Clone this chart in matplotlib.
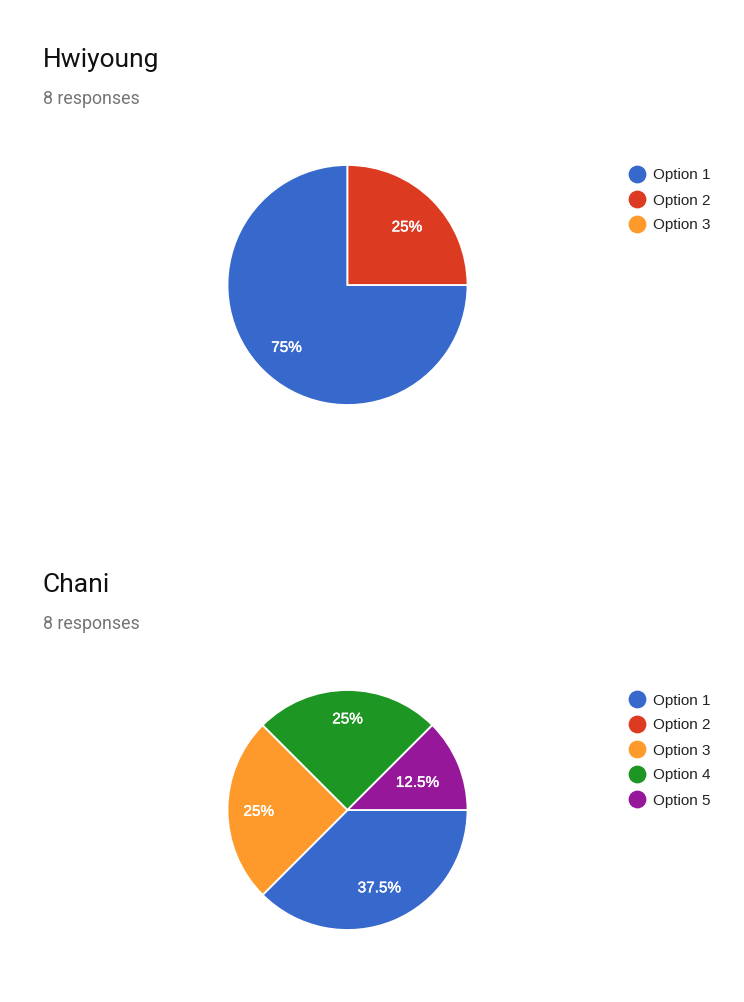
import matplotlib
matplotlib.use("Agg")
import matplotlib.pyplot as plt
from matplotlib.lines import Line2D
import matplotlib.patheffects as pe

# ---- data ----
titles = ["Hwiyoung", "Chani"]
responses = ["8 responses", "8 responses"]
options_top = ["Option 1", "Option 2", "Option 3"]
counts_top = [6, 2, 0]
options_bottom = ["Option 1", "Option 2", "Option 3", "Option 4", "Option 5"]
counts_bottom = [3, 0, 2, 2, 1]
palette = ["#3669cb", "#dc3a21", "#fe9a2b", "#1e9624", "#96179a"]

# label radial distances (style) for the non-zero wedges
label_dist_top = [0.72, 0.70]
label_dist_bottom = [0.69, 0.74, 0.77, 0.63]

W, H = 744, 1002
fig = plt.figure(figsize=(W / 100, H / 100), dpi=100)
fig.patch.set_facecolor("white")


def fx(x):
    return x / W


def fy(y):
    return 1 - y / H


def fmt_pct(p):
    return ("%.1f" % p).rstrip("0").rstrip(".") + "%"


def draw_block(y_off, title, resp, options, counts, dists):
    fig.text(fx(43), fy(67 + y_off), title, fontsize=19, family="Roboto",
             color="#111111", va="baseline", ha="left")
    fig.text(fx(43), fy(104 + y_off), resp, fontsize=12.8, family="Roboto",
             color="#757575", va="baseline", ha="left")
    cx, cy, r = 347.5, 285 + y_off, 120
    ax = fig.add_axes([fx(cx - r), fy(cy + r), 2 * r / W, 2 * r / H])
    vals = [c for c in counts if c > 0]
    cols = [palette[i] for i, c in enumerate(counts) if c > 0]
    wedges, texts, autotexts = ax.pie(
        vals, colors=cols, startangle=0, counterclock=False,
        autopct=fmt_pct, pctdistance=1.0,
        wedgeprops=dict(edgecolor="white", linewidth=1.3),
        textprops=dict(color="white", fontsize=11, family="Liberation Sans"))
    for t, d in zip(autotexts, dists):
        x, y = t.get_position()
        t.set_position((x * d, y * d - 0.015))
        t.set_path_effects([pe.withStroke(linewidth=0.3, foreground="white")])
    ax.set_xlim(-1.0, 1.0)
    ax.set_ylim(-1.0, 1.0)
    ax.set_aspect("equal")
    ax.axis("off")
    for i, lab in enumerate(options):
        yy = 174 + y_off + 25 * i
        fig.add_artist(Line2D([fx(637)], [fy(yy)], marker="o", markersize=11.8,
                              color=palette[i], linestyle="none",
                              transform=fig.transFigure))
        fig.text(fx(653), fy(yy), lab, fontsize=11, family="Liberation Sans",
                 color="#222222", va="center_baseline", ha="left")


draw_block(0, titles[0], responses[0], options_top, counts_top, label_dist_top)
draw_block(525, titles[1], responses[1], options_bottom, counts_bottom,
           label_dist_bottom)

fig.savefig("out.png", dpi=100, facecolor="white")
